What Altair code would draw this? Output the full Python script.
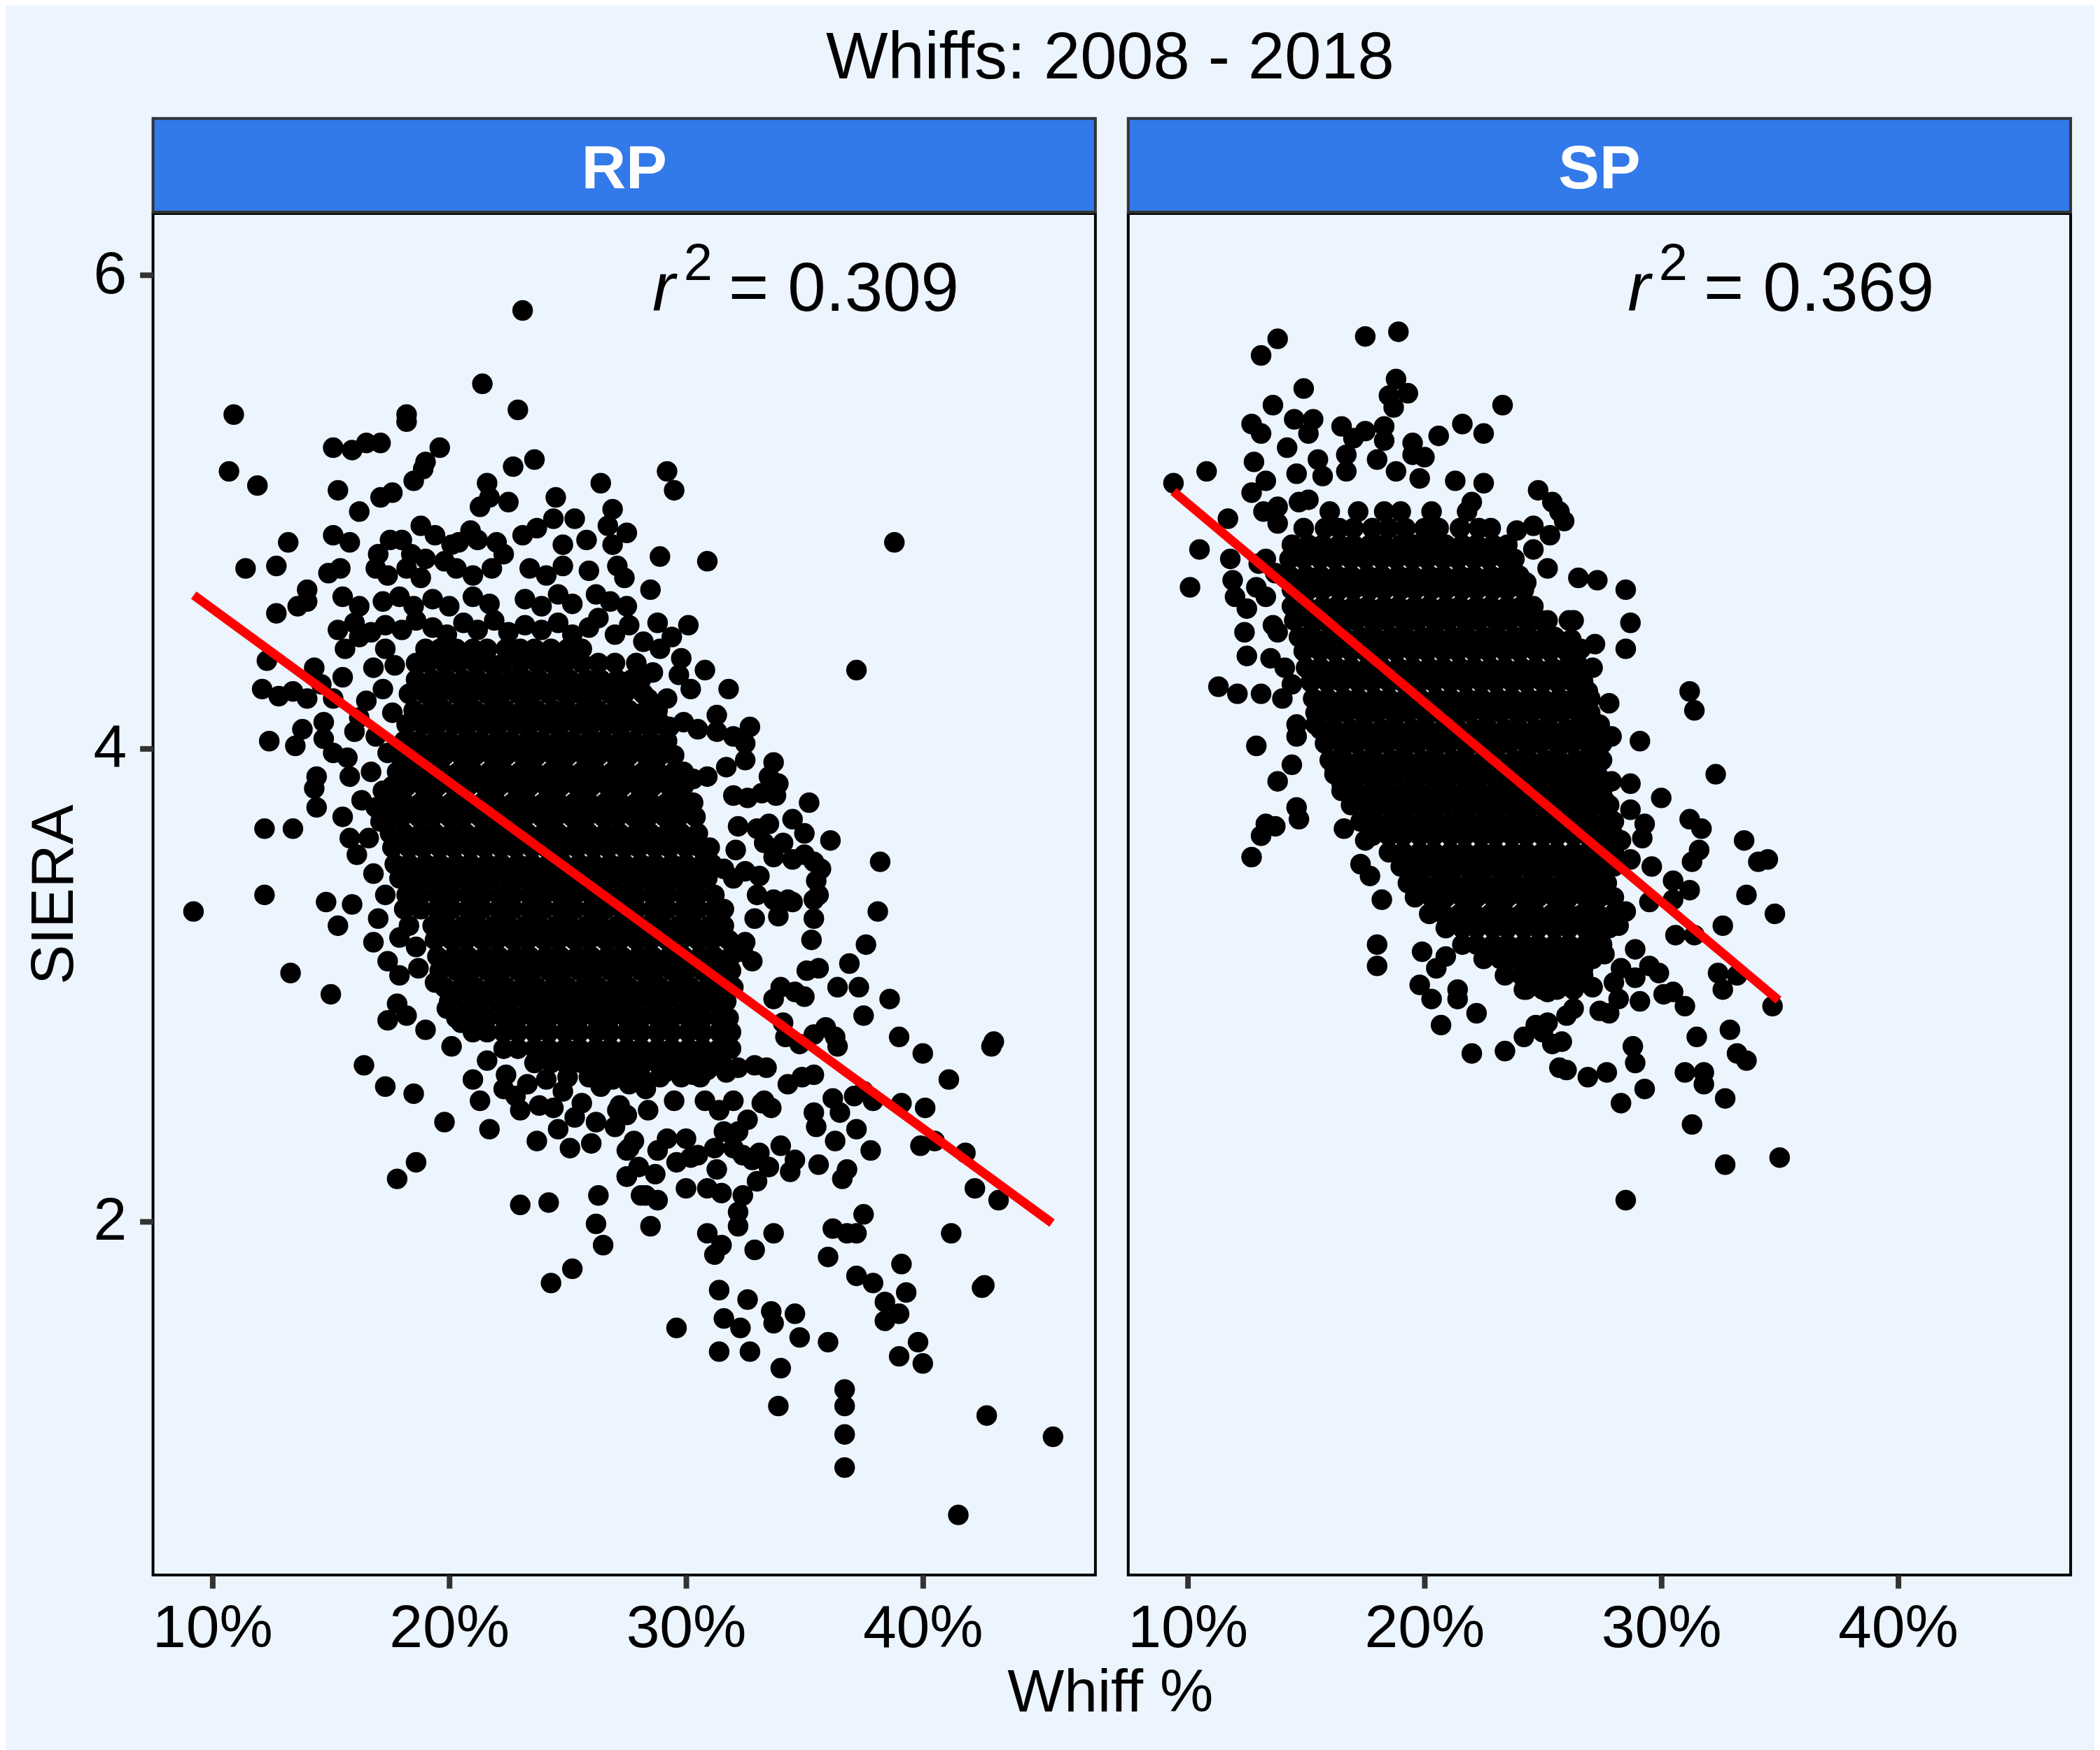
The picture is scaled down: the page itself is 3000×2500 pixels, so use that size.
import altair as alt
import pandas as pd

TITLE = "Whiffs: 2008 - 2018"
PANELS = ["RP", "SP"]
R2_VALUES = {"RP": "= 0.309", "SP": "= 0.369"}
X_TICKS = [0.10, 0.20, 0.30, 0.40]
Y_TICKS = [2, 4, 6]
X_DOMAIN = [0.0749, 0.4729]
Y_DOMAIN = [0.506, 6.26]

# fitted regression line end points (whiff %, SIERA)
FIT_WHIFF = {"RP": [9.21, 45.46], "SP": [9.40, 34.95]}
FIT_SIERA = {"RP": [4.647, 1.993], "SP": [5.085, 2.935]}

# r^2 label anchor points in data units (whiff %, SIERA)
R2_R = (28.58, 5.848)
R2_SUP = (29.9, 5.978)
R2_EQ = (31.8, 5.848)

# ---------------- RP points (whiff %, SIERA) ----------------
RP_TOP = """9.2 3.31; 10.7 5.17; 10.9 5.41; 11.4 4.76; 11.9 5.11; 12.7 4.57; 12.7 4.77; 13.2 4.87; 14.0 4.67;
14.0 4.62; 14.9 4.74; 15.1 4.90; 15.8 4.87; 15.1 5.27; 15.9 5.26; 16.5 5.29; 17.1 5.29; 18.2 5.41; 18.2 5.38;
19.6 5.27; 19.0 5.21; 18.9 5.18; 18.5 5.13; 15.3 5.09; 17.1 5.06; 17.6 5.08; 16.2 5.00; 21.4 5.54; 23.1 5.85;
22.9 5.43; 21.6 5.12; 22.7 5.19; 23.6 5.22; 22.5 5.04; 21.3 5.02; 21.7 5.06; 24.5 5.06; 24.4 4.97; 25.3 4.97;
26.4 5.12; 26.9 5.01; 26.7 4.94; 24.8 4.86; 23.1 4.90; 22.0 4.87; 22.3 4.82; 20.9 4.92; 20.4 4.87; 20.1 4.86;
18.8 4.94; 19.4 4.90; 19.0 4.80; 19.8 4.79; 17.5 4.88; 17.0 4.82; 18.4 4.82; 18.2 4.76; 17.4 4.73; 29.2 5.17;
29.5 5.09; 28.9 4.81; 30.9 4.79; 38.8 4.87; 37.2 4.33; 27.4 4.72; 28.5 4.67; 27.5 4.60; 28.8 4.53;
18.0 4.88; 21.2 4.88; 23.7 4.93; 25.8 4.88; 26.9 4.86; 27.5 4.91;
15.4 4.76; 16.9 4.76; 18.8 4.72; 20.3 4.76; 21.0 4.73; 21.8 4.76; 23.4 4.76; 24.1 4.73; 24.8 4.77; 25.9 4.75; 27.1 4.77;
13.6 4.60; 15.5 4.64; 16.2 4.60; 17.2 4.62; 17.9 4.64; 18.5 4.60; 19.3 4.63; 20.0 4.60; 21.0 4.64; 21.7 4.61;
23.2 4.63; 23.9 4.60; 24.6 4.65; 25.2 4.61; 26.2 4.65; 26.8 4.62;
15.3 4.50; 16.0 4.53; 16.7 4.49; 17.3 4.52; 18.0 4.50; 18.6 4.54; 19.3 4.51; 19.9 4.48; 20.6 4.53; 21.2 4.50;
21.9 4.54; 22.5 4.49; 23.2 4.52; 23.9 4.50; 24.6 4.53; 25.2 4.48; 25.9 4.51; 26.3 4.55; 27.0 4.48; 27.6 4.52; 28.2 4.45"""

RP_LEFT = """12.3 4.37; 12.1 4.25; 12.8 4.22; 13.4 4.24; 14.0 4.21; 14.3 4.34; 14.6 4.27; 12.4 4.03; 13.5 4.01;
13.8 4.08; 15.6 4.42; 15.5 4.30; 16.2 4.13; 16.0 4.07; 15.1 4.21; 14.7 4.11; 14.7 4.04; 15.1 3.98; 15.7 3.96;
14.4 3.88; 14.3 3.83; 14.4 3.75; 15.8 3.88; 15.8 3.62; 15.5 3.71; 12.2 3.66; 13.4 3.66; 12.2 3.38; 14.8 3.35;
15.9 3.34; 16.1 3.55; 16.8 3.47; 17.3 3.38; 16.6 3.62; 17.1 3.69; 15.3 3.25; 16.8 3.18; 13.3 3.05; 15.0 2.96;
17.4 3.10; 17.9 3.04; 18.7 3.07; 17.8 2.92; 17.4 2.85; 18.2 2.87; 19.0 2.81; 19.4 3.01; 19.9 2.90; 20.5 2.84;
20.1 2.74; 16.4 2.66; 17.3 2.57; 18.5 2.54; 19.8 2.42; 18.6 2.25; 17.8 2.18; 16.5 4.20; 17.2 4.25; 17.6 4.15;
16.9 4.05; 17.4 3.98; 16.7 3.90; 17.2 3.82; 16.3 3.78; 16.9 3.75; 17.7 4.35; 16.8 4.34; 17.3 4.42; 16.2 4.47;
18.3 3.25; 18.6 3.16; 18.1 3.32; 17.0 3.28; 17.9 3.20"""

RP_BOTTOM = """21.0 2.60; 21.3 2.51; 21.7 2.39; 22.3 2.56; 23.0 2.47; 23.8 2.49; 23.7 2.34; 24.6 2.39; 25.1 2.31;
26.0 2.33; 23.0 2.07; 24.2 2.08; 26.3 2.11; 26.2 1.99; 26.5 1.90; 25.2 1.80; 24.3 1.74; 27.1 2.47; 27.0 2.40;
27.6 2.31; 27.5 2.19; 28.1 2.11; 22.4 2.62; 23.3 2.58; 24.1 2.60; 24.8 2.55; 25.6 2.50; 26.4 2.57; 25.3 2.44;
26.2 2.42; 22.8 2.53; 24.4 2.48; 21.6 2.68; 26.9 2.60; 27.6 2.58; 28.3 2.56;
33.4 2.65; 32.9 2.66; 32.2 2.65; 31.7 2.63; 30.9 2.64; 30.3 2.62; 29.6 2.64; 29.1 2.63"""

RP_RIGHT = """38.1 3.31; 37.6 3.17; 36.9 3.09; 36.4 2.99; 37.3 2.99; 38.6 2.94; 37.5 2.87; 39.0 2.78; 40.0 2.71;
42.9 2.74; 43.0 2.76; 41.1 2.60; 40.1 2.48; 39.1 2.50; 39.9 2.32; 40.5 2.34; 41.8 2.29; 42.2 2.14; 43.2 2.09;
41.2 1.95; 42.5 1.72; 42.7 1.18; 45.5 1.09; 41.5 0.76; 36.7 1.29; 36.7 1.22; 36.7 1.10; 36.7 0.96; 33.9 1.22;
34.0 1.38; 32.7 1.45; 31.4 1.45; 34.8 1.51; 36.0 1.49; 29.6 1.55; 31.6 1.59; 32.3 1.55; 33.7 1.57; 33.6 1.62;
34.6 1.61; 32.6 1.67; 31.4 1.71; 38.4 1.58; 39.0 1.61; 38.4 1.66; 39.3 1.70; 39.8 1.49; 40.0 1.40; 39.0 1.43;
39.1 1.82; 37.9 1.74; 37.2 1.77; 36.0 1.85; 36.2 1.97; 36.8 1.95; 37.2 1.95; 37.5 2.03; 33.7 1.95; 32.9 1.88;
31.2 1.86; 31.5 1.90; 30.9 1.95; 28.5 1.98; 32.2 1.98; 32.2 2.04; 32.4 2.11; 31.5 2.12; 30.9 2.14; 30.0 2.14;
28.8 2.09; 28.3 2.11; 27.5 2.19; 33.0 2.17; 33.5 2.23; 34.4 2.21; 34.6 2.26; 35.6 2.24; 36.6 2.18; 36.8 2.22;
36.3 2.34; 37.8 2.30; 37.2 2.39; 35.4 2.46; 35.5 2.40; 36.2 2.52; 36.5 2.46; 33.6 2.48; 33.2 2.50; 34.0 2.32;
33.1 2.29; 32.4 2.28; 32.8 2.26; 32.0 2.31; 30.5 2.28; 31.2 2.31; 30.0 2.35; 29.2 2.35; 28.8 2.30; 27.5 2.30;
27.8 2.34; 35.4 2.62; 34.9 2.61; 34.3 2.58; 37.1 2.53; 37.9 2.51; 37.5 2.55; 36.3 2.78; 36.4 2.74; 35.9 2.82;
35.4 2.79; 34.8 2.75; 34.2 2.78; 34.1 2.84; 35.0 2.95; 34.6 2.97; 34.0 2.99; 33.7 2.94; 35.6 3.07; 35.1 3.06;
35.4 3.28; 35.3 3.19; 35.4 3.36; 33.9 3.29; 34.5 3.35; 32.9 3.28; 32.5 3.18; 32.8 3.10; 32.4 3.14; 29.5 2.51;
28.4 2.47; 27.5 2.45; 27.2 2.49; 30.8 2.51; 31.4 2.47; 32.0 2.51; 32.6 2.43; 33.3 2.51; 32.2 2.38; 31.6 2.38;
30.2 2.27; 31.3 2.22; 29.6 2.25; 28.7 2.20; 28.0 2.23; 42.6 1.73"""

RP_UPPER_RIGHT = """29.8 4.38; 30.8 4.33; 29.7 4.31; 30.2 4.25; 31.8 4.25; 29.2 4.21; 28.4 4.21; 28.0 4.25; 31.3 4.14;
31.3 4.07; 30.5 4.08; 29.9 4.11; 29.3 4.09; 28.3 4.10; 32.7 4.09; 32.0 4.05; 32.5 4.02; 32.5 3.95; 33.7 3.94;
33.5 3.88; 33.9 3.85; 35.2 3.77; 31.7 3.92; 30.9 3.88; 30.3 3.87; 32.0 3.80; 32.6 3.79; 33.2 3.81; 33.8 3.80;
32.2 3.67; 33.0 3.66; 33.5 3.68; 34.5 3.70; 35.0 3.64; 36.1 3.61; 38.2 3.52; 33.3 3.60; 32.1 3.57; 34.1 3.60;
35.4 3.52; 35.7 3.49; 35.5 3.44; 35.6 3.38; 35.0 3.55; 34.5 3.53; 33.7 3.54; 33.1 3.46; 32.5 3.48; 32.0 3.45;
31.6 3.49; 33.7 3.36; 34.3 3.36; 33.0 3.38; 28.9 4.42; 29.4 4.47; 30.1 4.52; 27.9 4.36; 28.6 4.32"""

# dense centre of the RP cloud, row by row: "SIERA|whiff % ..."
RP_CORE = [
    "4.42|19.0 19.6 20.3 21.0 21.6 22.4 23.0 23.6 24.3 25.0 25.6",
    "4.36|18.6 19.1 19.8 20.4 21.1 21.7 22.3 23.0 23.7 24.3 24.9 25.6 26.3 27.0",
    "4.29|18.6 19.3 19.9 20.6 21.2 21.9 22.6 23.2 23.8 24.5 25.1 25.8 26.4 27.1 27.7 28.1",
    "4.23|18.3 19.0 19.6 20.3 20.9 21.6 22.2 22.9 23.5 24.2 24.9 25.5 26.1 26.8 27.4 28.2",
    "4.16|18.5 19.2 19.8 20.5 21.1 21.8 22.4 23.1 23.7 24.4 25.0 25.7 26.3 27.0 27.6 28.3 28.8",
    "4.10|18.2 18.9 19.5 20.2 20.8 21.5 22.1 22.8 23.4 24.1 24.7 25.4 26.0 26.7 27.3 28.0 28.6 29.0",
    "4.03|18.1 18.7 19.4 20.0 20.7 21.3 22.0 22.6 23.3 23.9 24.6 25.2 25.9 26.5 27.2 27.8 28.5 29.2",
    "3.97|17.9 18.5 19.2 19.8 20.5 21.1 21.8 22.4 23.1 23.7 24.4 25.0 25.7 26.3 27.0 27.6 28.3 28.9 29.5",
    "3.90|17.8 18.4 19.1 19.7 20.4 21.0 21.7 22.3 23.0 23.6 24.3 24.9 25.6 26.2 26.9 27.5 28.2 28.8 29.5 29.9",
    "3.84|17.6 18.2 18.9 19.5 20.2 20.8 21.5 22.1 22.8 23.4 24.1 24.7 25.4 26.0 26.7 27.3 28.0 28.6 29.3 29.9",
    "3.77|17.5 18.1 18.8 19.4 20.1 20.7 21.4 22.0 22.7 23.3 24.0 24.6 25.3 25.9 26.6 27.2 27.9 28.5 29.2 29.8 30.3",
    "3.71|17.4 18.0 18.7 19.3 20.0 20.6 21.3 21.9 22.6 23.2 23.9 24.5 25.2 25.8 26.5 27.1 27.8 28.4 29.1 29.7 30.4",
    "3.64|17.5 18.1 18.8 19.4 20.1 20.7 21.4 22.0 22.7 23.3 24.0 24.6 25.3 25.9 26.6 27.2 27.9 28.5 29.2 29.8 30.5",
    "3.58|17.6 18.3 18.9 19.6 20.2 20.9 21.5 22.2 22.8 23.5 24.1 24.8 25.4 26.1 26.7 27.4 28.0 28.7 29.3 30.0 30.6 31.0",
    "3.51|17.7 18.3 19.0 19.6 20.3 20.9 21.6 22.2 22.9 23.5 24.2 24.8 25.5 26.1 26.8 27.4 28.1 28.7 29.4 30.0 30.7 31.1",
    "3.45|17.9 18.6 19.2 19.9 20.5 21.2 21.8 22.5 23.1 23.8 24.4 25.1 25.7 26.4 27.0 27.7 28.3 29.0 29.6 30.3 30.9",
    "3.38|18.2 18.8 19.5 20.1 20.8 21.4 22.1 22.7 23.4 24.0 24.7 25.3 26.0 26.6 27.3 27.9 28.6 29.2 29.9 30.5 31.2",
    "3.32|18.8 19.5 20.1 20.8 21.4 22.1 22.7 23.4 24.0 24.7 25.3 26.0 26.6 27.3 27.9 28.6 29.2 29.9 30.5 31.2 31.6",
    "3.25|19.3 19.9 20.6 21.2 21.9 22.5 23.2 23.8 24.5 25.1 25.8 26.4 27.1 27.7 28.4 29.0 29.7 30.3 31.0 31.6",
    "3.19|19.4 20.1 20.7 21.4 22.0 22.7 23.3 24.0 24.6 25.3 25.9 26.6 27.2 27.9 28.5 29.2 29.8 30.5 31.1 31.8",
    "3.12|19.5 20.2 20.8 21.5 22.1 22.8 23.4 24.1 24.7 25.4 26.0 26.7 27.3 28.0 28.6 29.3 29.9 30.6 31.2 31.9",
    "3.06|19.6 20.3 20.9 21.6 22.2 22.9 23.5 24.2 24.8 25.5 26.1 26.8 27.4 28.1 28.7 29.4 30.0 30.7 31.3 31.9",
    "2.99|19.8 20.5 21.1 21.8 22.4 23.1 23.7 24.4 25.0 25.7 26.3 27.0 27.6 28.3 28.9 29.6 30.2 30.9 31.5 32.0",
    "2.93|20.0 20.7 21.3 22.0 22.6 23.3 23.9 24.6 25.2 25.9 26.5 27.2 27.8 28.5 29.1 29.8 30.4 31.1 31.7",
    "2.86|20.3 21.0 21.6 22.3 22.9 23.6 24.2 24.9 25.5 26.2 26.8 27.5 28.1 28.8 29.4 30.1 30.7 31.4 31.8",
    "2.80|21.0 21.6 22.3 22.9 23.6 24.2 24.9 25.5 26.2 26.8 27.5 28.1 28.8 29.4 30.1 30.7 31.4 31.9",
    "2.73|22.3 22.9 23.6 24.2 24.9 25.5 26.2 26.8 27.5 28.1 28.8 29.4 30.1 30.7 31.4 31.9",
    "2.67|23.6 24.3 24.9 25.6 26.2 26.9 27.5 28.2 28.8 29.5 30.1 30.8 31.5",
    "2.61|25.0 25.9 26.6 27.4 28.1 28.9 29.8 30.6",
]

# ---------------- SP points (whiff %, SIERA) ----------------
SP_UPPER = """9.4 5.12; 10.8 5.17; 10.5 4.84; 10.1 4.68; 11.7 4.97; 11.8 4.80; 11.9 4.71; 12.0 4.64; 12.5 4.59;
12.4 4.49; 12.5 4.39; 11.3 4.26; 12.1 4.23; 13.1 4.23; 14.0 4.21; 12.9 4.01; 14.4 3.93; 13.8 3.86; 14.6 3.75;
13.3 3.68; 13.7 3.67; 13.1 3.63; 12.7 3.54; 13.1 5.66; 13.8 5.73; 17.5 5.74; 18.9 5.76; 14.9 5.52; 18.8 5.56;
19.3 5.50; 18.5 5.49; 18.7 5.44; 23.3 5.45; 13.6 5.45; 12.7 5.37; 13.1 5.33; 14.5 5.39; 15.3 5.39; 15.1 5.33;
16.5 5.36; 17.5 5.34; 18.3 5.36; 18.3 5.30; 17.0 5.31; 20.6 5.32; 21.6 5.37; 22.5 5.33; 19.5 5.29; 20.0 5.23;
19.5 5.24; 14.2 5.27; 12.8 5.21; 13.3 5.13; 12.7 5.08; 14.6 5.16; 15.5 5.22; 15.7 5.15; 16.7 5.24; 16.7 5.17;
18.0 5.22; 18.8 5.17; 19.8 5.14; 21.3 5.13; 22.5 5.12; 22.0 5.04; 24.8 5.09; 25.4 5.04; 25.9 4.96; 25.3 4.90;
24.6 4.94; 25.2 4.76; 22.8 4.93; 23.9 4.92; 24.6 4.84; 24.3 4.70; 24.3 4.57; 25.2 4.54; 26.1 4.54; 26.2 4.46;
26.0 4.29; 26.4 4.17; 13.8 5.02; 13.2 5.00; 13.8 4.95; 14.7 5.04; 15.1 5.05; 13.3 4.80; 13.0 4.78; 13.7 4.74;
12.9 4.68; 13.3 4.64; 13.6 4.52; 13.8 4.49; 13.5 4.38; 14.1 4.34; 14.4 4.27; 14.6 4.10; 14.6 4.05; 15.4 4.10;
16.2 3.92; 16.5 3.85; 17.2 3.91; 16.5 4.02; 25.7 5.00"""

SP_LOWER = """14.7 3.70; 16.6 3.66; 17.5 3.61; 17.3 3.51; 17.7 3.46; 18.2 3.36; 18.0 3.17; 18.0 3.08; 19.8 3.00;
20.3 2.94; 19.9 3.14; 20.5 3.07; 20.9 3.12; 21.4 2.98; 21.4 2.94; 22.2 2.88; 20.7 2.83; 22.0 2.71; 23.4 2.72;
24.2 2.78; 25.0 2.80; 25.4 2.75; 25.8 2.76; 25.7 2.65; 26.0 2.64; 26.0 2.87; 25.2 2.84; 24.7 2.83; 24.2 2.98;
25.2 2.97"""

SP_RIGHT = """26.5 4.72; 27.3 4.71; 28.5 4.67; 28.7 4.53; 28.5 4.42; 26.3 4.54; 27.2 4.44; 26.6 4.42; 27.1 4.34;
26.4 4.37; 31.2 4.24; 31.4 4.16; 26.9 4.24; 27.8 4.19; 27.4 4.10; 26.6 4.09; 27.9 4.05; 29.1 4.03; 32.3 3.89;
30.0 3.79; 27.2 3.99; 26.8 3.93; 27.9 3.86; 28.7 3.85; 27.6 3.78; 26.4 3.84; 26.8 3.76; 28.7 3.74; 29.3 3.68;
29.2 3.62; 28.3 3.61; 31.2 3.70; 31.7 3.66; 33.5 3.61; 34.1 3.52; 34.5 3.53; 31.6 3.57; 31.3 3.52; 29.6 3.50;
28.7 3.53; 30.5 3.44; 31.2 3.40; 33.6 3.38; 34.8 3.30; 29.5 3.35; 30.5 3.36; 28.5 3.31; 27.6 3.39; 27.0 3.43;
32.6 3.25; 30.6 3.21; 31.4 3.21; 26.3 3.29; 26.8 3.24; 27.6 3.26; 28.2 3.25; 26.9 3.18; 28.9 3.15; 27.6 3.13;
26.3 3.14; 32.4 3.05; 32.6 2.98; 33.2 3.04; 34.7 2.91; 28.3 3.07; 29.5 3.08; 29.9 3.05; 28.9 3.03; 28.0 3.01;
27.1 2.99; 26.3 3.05; 26.7 3.07; 30.1 2.96; 30.5 2.97; 31.0 2.91; 29.1 2.93; 28.2 2.94; 27.8 2.88; 27.4 2.89;
26.3 2.90; 31.5 2.78; 32.9 2.81; 33.2 2.71; 33.6 2.68; 28.8 2.74; 28.9 2.67; 26.9 2.61; 27.7 2.63; 29.3 2.56;
31.0 2.63; 31.8 2.63; 31.8 2.58; 32.7 2.52; 28.3 2.50; 31.3 2.41; 32.7 2.24; 35.0 2.27; 28.5 2.09"""

# dense centre of the SP cloud, row by row: "SIERA|whiff % ..."
SP_CORE = [
    "5.00|16.0 17.2 18.3 19.0 20.3 21.8",
    "4.93|14.9 15.8 16.4 17.0 17.8 18.5 19.2 20.0 20.6 21.5 22.3",
    "4.86|14.4 15.1 15.7 16.4 17.0 17.7 18.3 19.0 19.6 20.3 20.9 21.6 22.2 22.9 23.5",
    "4.80|14.3 14.9 15.6 16.2 16.9 17.5 18.2 18.8 19.5 20.1 20.8 21.4 22.1 22.7 23.4 23.8",
    "4.73|14.3 15.0 15.6 16.3 16.9 17.6 18.2 18.9 19.5 20.2 20.8 21.5 22.1 22.8 23.4 24.0",
    "4.67|14.4 15.1 15.7 16.4 17.0 17.7 18.3 19.0 19.6 20.3 20.9 21.6 22.2 22.9 23.5 24.2",
    "4.60|14.4 15.0 15.7 16.3 17.0 17.6 18.3 18.9 19.6 20.2 20.9 21.5 22.2 22.8 23.5 24.1 24.6",
    "4.54|14.5 15.2 15.8 16.5 17.1 17.8 18.4 19.1 19.7 20.4 21.0 21.7 22.3 23.0 23.6 24.3 24.9",
    "4.47|14.7 15.3 16.0 16.6 17.3 17.9 18.6 19.2 19.9 20.5 21.2 21.8 22.5 23.1 23.8 24.4 25.1 25.5",
    "4.41|14.9 15.6 16.2 16.9 17.5 18.2 18.8 19.5 20.1 20.8 21.4 22.1 22.7 23.4 24.0 24.7 25.3 26.0",
    "4.34|15.0 15.6 16.3 16.9 17.6 18.2 18.9 19.5 20.2 20.8 21.5 22.1 22.8 23.4 24.1 24.7 25.4 26.0 26.5",
    "4.28|15.2 15.9 16.5 17.2 17.8 18.5 19.1 19.8 20.4 21.1 21.7 22.4 23.0 23.7 24.3 25.0 25.6 26.3 26.7",
    "4.21|15.3 15.9 16.6 17.2 17.9 18.5 19.2 19.8 20.5 21.1 21.8 22.4 23.1 23.7 24.4 25.0 25.7 26.3 27.0",
    "4.15|15.4 16.1 16.7 17.4 18.0 18.7 19.3 20.0 20.6 21.3 21.9 22.6 23.2 23.9 24.5 25.2 25.8 26.5 27.0",
    "4.08|15.6 16.2 16.9 17.5 18.2 18.8 19.5 20.1 20.8 21.4 22.1 22.7 23.4 24.0 24.7 25.3 26.0 26.6 27.3",
    "4.02|15.8 16.5 17.1 17.8 18.4 19.1 19.7 20.4 21.0 21.7 22.3 23.0 23.6 24.3 24.9 25.6 26.2 26.9 27.5",
    "3.95|16.0 16.6 17.3 17.9 18.6 19.2 19.9 20.5 21.2 21.8 22.5 23.1 23.8 24.4 25.1 25.7 26.4 27.0 27.5",
    "3.89|16.2 16.9 17.5 18.2 18.8 19.5 20.1 20.8 21.4 22.1 22.7 23.4 24.0 24.7 25.3 26.0 26.6 27.3",
    "3.82|16.5 17.1 17.8 18.4 19.1 19.7 20.4 21.0 21.7 22.3 23.0 23.6 24.3 24.9 25.6 26.2 26.9 27.5",
    "3.76|16.9 17.6 18.2 18.9 19.5 20.2 20.8 21.5 22.1 22.8 23.4 24.1 24.7 25.4 26.0 26.7 27.3 27.8",
    "3.69|17.3 17.9 18.6 19.2 19.9 20.5 21.2 21.8 22.5 23.1 23.8 24.4 25.1 25.7 26.4 27.0 27.7 28.0",
    "3.63|17.8 18.5 19.1 19.8 20.4 21.1 21.7 22.4 23.0 23.7 24.3 25.0 25.6 26.3 26.9 27.6 28.0",
    "3.56|18.5 19.1 19.8 20.4 21.1 21.7 22.4 23.0 23.7 24.3 25.0 25.6 26.3 26.9 27.6 28.0",
    "3.50|19.0 19.7 20.3 21.0 21.6 22.3 22.9 23.6 24.2 24.9 25.5 26.2 26.8 27.5 28.0",
    "3.43|19.3 19.9 20.6 21.2 21.9 22.5 23.2 23.8 24.5 25.1 25.8 26.4 27.1 27.7",
    "3.37|19.6 20.3 20.9 21.6 22.2 22.9 23.5 24.2 24.8 25.5 26.1 26.8 27.4 28.0",
    "3.30|20.2 20.8 21.5 22.1 22.8 23.4 24.1 24.7 25.4 26.0 26.7 27.3 28.0",
    "3.24|20.9 21.6 22.2 22.9 23.5 24.2 24.8 25.5 26.1 26.8 27.4 27.8",
    "3.17|21.6 22.2 22.9 23.5 24.2 24.8 25.5 26.1 26.8 27.5",
    "3.11|22.5 23.2 23.8 24.5 25.1 25.8 26.4 27.1",
    "3.04|23.4 24.1 24.7 25.4 26.0 26.7",
    "2.98|24.3 25.0 25.6 26.3",
]


def parse_pairs(text):
    out = []
    for item in text.replace("\n", " ").split(";"):
        item = item.strip()
        if item:
            a, b = item.split()
            out.append((float(a), float(b)))
    return out


def parse_rows(rows):
    out = []
    for row in rows:
        y, xs = row.split("|")
        for x in xs.split():
            out.append((float(x), float(y)))
    return out


POINTS = {
    "RP": parse_pairs(RP_TOP) + parse_pairs(RP_LEFT) + parse_pairs(RP_BOTTOM)
    + parse_pairs(RP_RIGHT) + parse_pairs(RP_UPPER_RIGHT) + parse_rows(RP_CORE),
    "SP": parse_pairs(SP_UPPER) + parse_pairs(SP_LOWER) + parse_pairs(SP_RIGHT)
    + parse_rows(SP_CORE),
}

BG = "#ECF4FE"
STRIP = "#3279EA"
FONT = "Liberation Sans"
W, H = 1349, 1949


def make_panel(name, left):
    pts = pd.DataFrame(POINTS[name], columns=["pct", "siera"])
    pts["whiff"] = pts["pct"] / 100.0
    fit = pd.DataFrame({"whiff": [v / 100.0 for v in FIT_WHIFF[name]],
                        "siera": FIT_SIERA[name]})

    xaxis_kw = dict(values=X_TICKS, format=".0%", labelPadding=16, labelFlush=False)
    if left:
        xaxis_kw.update(title="Whiff %", titlePadding=7, titleX=1370, titleAlign="center")
    else:
        xaxis_kw.update(title=None)
    xs = alt.Scale(domain=X_DOMAIN, nice=False, zero=False)
    ys = alt.Scale(domain=Y_DOMAIN, nice=False, zero=False)
    X = alt.X("whiff:Q", scale=xs, axis=alt.Axis(**xaxis_kw))
    if left:
        Y = alt.Y("siera:Q", scale=ys,
                  axis=alt.Axis(values=Y_TICKS, title="SIERA", labelPadding=19,
                                titlePadding=11))
    else:
        Y = alt.Y("siera:Q", scale=ys, axis=None)

    points = alt.Chart(pts).mark_circle(size=870, color="black", opacity=1).encode(x=X, y=Y)
    line = alt.Chart(fit).mark_line(color="#FF0000", strokeWidth=13).encode(x=X, y=Y)

    def txt(t, pos, size, style="normal"):
        d = pd.DataFrame({"whiff": [pos[0] / 100.0], "siera": [pos[1]], "t": [t]})
        return alt.Chart(d).mark_text(font=FONT, fontSize=size, fontStyle=style,
                                      align="left", baseline="alphabetic",
                                      color="black").encode(x=X, y=Y, text="t:N")

    r_t = txt("r", R2_R, 98, "italic")
    sup_t = txt("2", R2_SUP, 74)
    eq_t = txt(R2_VALUES[name], R2_EQ, 98)

    lab = pd.DataFrame({"p": [name]})
    strip = alt.Chart(lab).mark_rect(fill=STRIP, stroke="#333333", strokeWidth=4).encode(
        x=alt.value(0), x2=alt.value(W), y=alt.value(-136), y2=alt.value(-2))
    strip_text = alt.Chart(lab).mark_text(font=FONT, fontSize=88, fontWeight="bold",
                                          color="white", align="center",
                                          baseline="alphabetic").encode(
        text="p:N", x=alt.value(W / 2), y=alt.value(-36))

    layers = [strip, strip_text, points, line, r_t, sup_t, eq_t]
    if left:
        title = alt.Chart(pd.DataFrame({"t": [TITLE]})).mark_text(
            font=FONT, fontSize=94, color="black", align="center",
            baseline="alphabetic").encode(text="t:N", x=alt.value(1370), y=alt.value(-193))
        layers.append(title)
    return alt.layer(*layers).properties(width=W, height=H)


chart = alt.hconcat(make_panel("RP", True), make_panel("SP", False),
                    spacing=47, bounds="flush").properties(
    padding={"left": 25, "top": 25, "right": 30, "bottom": 34}
).configure(background=BG, font=FONT).configure_view(
    stroke="black", strokeWidth=4
).configure_axis(
    grid=False, domain=False, tickColor="#333333", tickWidth=8, tickSize=19,
    labelFont=FONT, titleFont=FONT, labelFontSize=86, titleFontSize=86,
    labelColor="black", titleColor="black", titleFontWeight="normal"
)

chart.save("out.html", embed_options={"renderer": "svg", "actions": False})
